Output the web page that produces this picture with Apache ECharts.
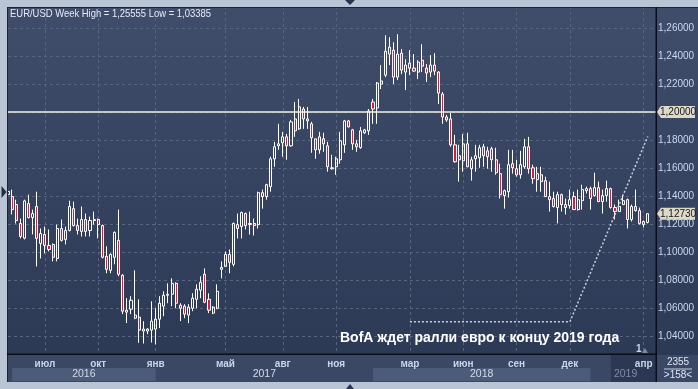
<!DOCTYPE html>
<html><head><meta charset="utf-8">
<script src="https://cdn.jsdelivr.net/npm/echarts@6/dist/echarts.min.js"></script>
<style>html,body{margin:0;padding:0;background:#b9c5d5;}#c{width:698px;height:389px;}</style>
</head><body><div id="c"></div>
<script>
// weekly EUR/USD candles: [open, close, low, high]
const candles = [
[1.1410,1.1432,1.1388,1.1452],[1.1395,1.1302,1.1267,1.1445],[1.1338,1.1224,1.1203,1.1373],[1.1203,1.1110,1.1096,1.1238],
[1.1098,1.1364,1.1089,1.1373],[1.1345,1.1245,1.1238,1.1409],[1.1245,1.1274,1.1125,1.1302],[1.1324,1.1096,1.0896,1.1430],
[1.1060,1.1131,1.0953,1.1167],[1.1124,1.1046,1.0989,1.1181],[1.1046,1.1017,1.1003,1.1160],[1.1053,1.0961,1.0932,1.1060],
[1.0953,1.1167,1.0932,1.1195],[1.1167,1.1082,1.1074,1.1231],[1.1089,1.1153,1.1053,1.1181],[1.1153,1.1324,1.1146,1.1366],
[1.1309,1.1188,1.1181,1.1359],[1.1188,1.1153,1.1124,1.1238],[1.1146,1.1231,1.1110,1.1324],[1.1231,1.1146,1.1110,1.1274],
[1.1153,1.1224,1.1110,1.1252],[1.1224,1.1231,1.1195,1.1288],[1.1231,1.1195,1.1096,1.1238],[1.1188,1.0961,1.0953,1.1195],
[1.0968,1.0875,1.0847,1.1039],[1.0868,1.0982,1.0847,1.0989],[1.0961,1.1139,1.0911,1.1146],[1.1082,1.0840,1.0826,1.1302],
[1.0833,1.0576,1.0555,1.0840],[1.0569,1.0583,1.0491,1.0669],[1.0590,1.0654,1.0555,1.0683],[1.0526,1.0548,1.0519,1.0868],
[1.0533,1.0441,1.0350,1.0661],[1.0434,1.0448,1.0345,1.0505],[1.0434,1.0448,1.0412,1.0455],[1.0441,1.0505,1.0352,1.0647],
[1.0448,1.0519,1.03385,1.0597],[1.0519,1.0633,1.0455,1.0683],[1.0612,1.0690,1.0540,1.0718],[1.0690,1.0697,1.0633,1.0775],
[1.0697,1.0775,1.0612,1.0811],[1.0775,1.0633,1.0597,1.0783],[1.0619,1.0597,1.0505,1.0633],[1.0612,1.0555,1.0526,1.0626],
[1.0548,1.0605,1.0491,1.0626],[1.0597,1.0669,1.0576,1.0704],[1.0661,1.0733,1.0597,1.0768],[1.0726,1.0783,1.0669,1.0825],
[1.0840,1.0640,1.0633,1.0882],[1.0661,1.0583,1.0562,1.0704],[1.0562,1.0605,1.0555,1.0612],[1.0597,1.0718,1.0590,1.0768],
[1.0875,1.0889,1.0811,1.0932],[1.0896,1.0982,1.0896,1.1003],[1.0982,1.0925,1.0847,1.1017],[1.0911,1.1203,1.0896,1.1210],
[1.1195,1.1167,1.1096,1.1274],[1.1181,1.1281,1.1096,1.1288],[1.1274,1.1188,1.1160,1.1281],[1.1195,1.1203,1.1124,1.1288],
[1.1203,1.1188,1.1117,1.1238],[1.1195,1.1423,1.1167,1.1430],[1.1423,1.1395,1.1309,1.1445],[1.1395,1.1480,1.1373,1.1487],
[1.1466,1.1665,1.1430,1.1680],[1.1665,1.1751,1.1608,1.1786],[1.1758,1.1772,1.1729,1.1915],[1.1779,1.1822,1.1680,1.1858],
[1.1822,1.1758,1.1658,1.1843],[1.1758,1.1929,1.1751,1.1943],[1.1950,1.1865,1.1822,1.2071],[1.1879,1.2036,1.1872,1.2093],
[1.2021,1.1950,1.1879,1.2036],[1.1936,1.1950,1.1879,1.2036],[1.1915,1.1815,1.1708,1.1929],[1.1808,1.1729,1.1665,1.1808],
[1.1729,1.1822,1.1701,1.1858],[1.1808,1.1772,1.1715,1.1851],[1.1758,1.1608,1.1573,1.1786],[1.1594,1.1601,1.1587,1.1694],
[1.1608,1.1665,1.1551,1.1680],[1.1658,1.1794,1.1630,1.1858],[1.1765,1.1936,1.1708,1.1943],[1.1936,1.1893,1.1890,1.1943],
[1.1872,1.1772,1.1729,1.1879],[1.1772,1.1751,1.1715,1.1801],[1.1744,1.1865,1.1737,1.1893],[1.1851,1.1872,1.1843,1.1879],
[1.1865,1.2007,1.1836,1.2021],[1.2071,1.2021,1.1915,1.2093],[1.2028,1.2207,1.1915,1.2214],[1.2199,1.2221,1.2164,1.2335],
[1.2263,1.2434,1.2249,1.2548],[1.2413,1.2463,1.2335,1.2534],[1.2441,1.2249,1.2199,1.2498],[1.2249,1.2413,1.2228,1.25555],
[1.2420,1.2299,1.2270,1.2449],[1.2285,1.2335,1.2157,1.2377],[1.2349,1.2313,1.2263,1.2441],[1.2313,1.2292,1.2285,1.2413],
[1.2285,1.2356,1.2235,1.2370],[1.2370,1.2327,1.2285,1.2484],[1.2313,1.2278,1.2214,1.2342],[1.2285,1.2335,1.2249,1.2406],
[1.2335,1.2292,1.2263,1.2420],[1.2285,1.2135,1.2057,1.2292],[1.2128,1.1964,1.1915,1.2142],[1.1964,1.1943,1.1929,1.1979],
[1.1950,1.1765,1.1751,1.1993],[1.1765,1.1644,1.1637,1.1836],[1.1687,1.1658,1.1502,1.1765],[1.1651,1.1772,1.1573,1.1843],
[1.1772,1.1608,1.1606,1.1851],[1.1594,1.1658,1.1509,1.1680],[1.1665,1.1687,1.1573,1.1765],[1.1672,1.1744,1.1601,1.1765],
[1.1751,1.1687,1.1608,1.1772],[1.1722,1.1680,1.1594,1.1751],[1.1737,1.1658,1.1573,1.1751],[1.1658,1.1566,1.1551,1.1744],
[1.1559,1.1409,1.1381,1.1630],[1.1402,1.1437,1.1309,1.1445],[1.1430,1.1623,1.1388,1.1729],[1.1630,1.1601,1.1559,1.1729],
[1.1594,1.1551,1.1537,1.1658],[1.1551,1.1623,1.1523,1.1722],[1.1608,1.1751,1.1594,1.1808],[1.1751,1.1594,1.1559,1.1822],
[1.1601,1.1523,1.1487,1.1623],[1.1516,1.1559,1.1430,1.1608],[1.1551,1.1502,1.1430,1.1608],[1.1509,1.1395,1.1393,1.1537],
[1.1395,1.1373,1.1288,1.1502],[1.1381,1.1324,1.1317,1.1430],[1.1317,1.1409,1.1203,1.1430],[1.1409,1.1338,1.1288,1.1416],
[1.1338,1.1317,1.1267,1.1381],[1.1331,1.1373,1.1309,1.1445],[1.1395,1.1302,1.1300,1.1430],[1.1302,1.1373,1.1295,1.1445],
[1.1366,1.1445,1.1302,1.1480],[1.1437,1.1452,1.1416,1.1466],[1.1452,1.1381,1.1302,1.1466],[1.1402,1.1459,1.1395,1.1566],
[1.1459,1.1359,1.1357,1.1502],[1.1359,1.1402,1.1274,1.1445],[1.1402,1.1452,1.1359,1.1509],[1.1452,1.1317,1.1309,1.1459],
[1.1317,1.1288,1.1231,1.1338],[1.1288,1.1324,1.1286,1.1373],[1.1338,1.1366,1.1336,1.1409],[1.1373,1.1231,1.1167,1.1381],
[1.1231,1.1324,1.1217,1.1338],[1.1324,1.1295,1.1288,1.1445],[1.1295,1.1203,1.1195,1.1317],[1.1195,1.1217,1.1174,1.1224],
[1.1210,1.1273,1.1203,1.1274]
];
const firstWeek = '2016-05-02';
const totalSlots = 159; // candles + 2 empty weeks at the right edge
const monthTicks = [[9,'июл'],[22,'окт'],[36,'янв'],[53,'май'],[67,'авг'],[80,'ноя'],[98,'мар'],[111,'июн'],[124,'сен'],[137,'дек'],[155,'апр']];
const yearBands = [['2016',1,36,'light'],['2017',36,89,'none'],['2018',89,142,'light'],['2019',147,158,'dark']];
const levelLine = 1.20;
const trendLine = [[98,1.05],[137,1.05],[156,1.1825]];
const yTicks = {min:1.02, max:1.28, step:0.02};
const annotation = 'BofA ждет ралли евро к концу 2019 года';
const sideInfo = ['2355','>158<'];

const categories = [];
(function(){ let t = Date.parse(firstWeek+'T00:00:00Z'); for(let i=0;i<totalSlots;i++){ categories.push(new Date(t).toISOString().slice(0,10)); t += 7*864e5; } })();
const tickMap = new Map(monthTicks);
const fmt = v => v.toFixed(5).replace('.', ',');
const hi = Math.max(...candles.map(c=>c[3])), lo = Math.min(...candles.map(c=>c[2]));
const SANS = '"Liberation Sans", Arial, sans-serif';

const chart = echarts.init(document.getElementById('c'), null, {renderer:'canvas'});
const gridLine = {color:'#55647f', type:[3,3], width:1};
chart.setOption({
  animation:false,
  backgroundColor:'transparent',
  grid:{left:8, right:42, top:-2.8, bottom:25.2, containLabel:false},
  xAxis:[
    {type:'category', data:categories, boundaryGap:false, axisLine:{show:false}, axisTick:{show:false}, axisLabel:{show:false},
     splitLine:{show:true, interval:(i)=>tickMap.has(i), lineStyle:gridLine}},
    {type:'category', data:categories, boundaryGap:false, position:'bottom', z:150, axisLine:{show:false}, axisTick:{show:false}, splitLine:{show:false},
     axisLabel:{show:true, interval:(i)=>tickMap.has(i), formatter:(v,i)=>tickMap.get(i)||'', margin:0, verticalAlign:'middle',
       color:(v,i)=> i>=147 ? '#7f8ca6' : '#c9d5e8', fontFamily:SANS, fontSize:10, fontWeight:'bold'}}
  ],
  yAxis:[
    {type:'value', position:'right', min:yTicks.min, max:yTicks.max, interval:yTicks.step, axisLine:{show:false}, axisTick:{show:false}, axisLabel:{show:false},
     splitLine:{show:true, showMinLine:false, showMaxLine:false, lineStyle:gridLine}},
    {type:'value', position:'right', min:yTicks.min, max:yTicks.max, interval:yTicks.step, z:150, axisLine:{show:false}, axisTick:{show:false}, splitLine:{show:false},
     axisLabel:{show:true, margin:2, formatter:fmt, showMinLabel:false, showMaxLabel:false, color:'#c9d8f0', fontFamily:SANS, fontSize:10}}
  ],
  series:[
    {type:'candlestick', data:candles.map(c=>[c[0],c[1],c[2],c[3]]), xAxisIndex:0, yAxisIndex:0, barWidth:2.6, z:2,
     itemStyle:{color:'transparent', color0:'#dc1a40', borderColor:'#ffffff', borderColor0:'#ffffff', borderWidth:1},
     markLine:{silent:true, symbol:'none', label:{show:false}, lineStyle:{color:'#f3f0e4', width:1.5, type:'solid'}, data:[{yAxis:levelLine}]}},
    {type:'line', data:trendLine, xAxisIndex:0, yAxisIndex:0, symbol:'none', z:4, lineStyle:{color:'#c9ced9', width:1.5, type:[2,2]}}
  ]
});

const px = i => chart.convertToPixel({xAxisIndex:0}, i);
const py = v => chart.convertToPixel({yAxisIndex:0}, v);
const g = [];
g.push({type:'rect', shape:{x:0,y:0,width:698,height:389}, z:-100, style:{fill:new echarts.graphic.LinearGradient(0,0,0,1,[{offset:0,color:'#404d6b'},{offset:1,color:'#2b3854'}])}});
// title
g.push({type:'text', x:10, y:14, scaleX:0.9, z:100, style:{text:'EUR/USD Week High = '+fmt(hi)+' Low = '+fmt(lo), fill:'#e6ecf6', font:'10.5px '+SANS, align:'left', verticalAlign:'middle'}});
// x axis panel
g.push({type:'rect', shape:{x:8,y:355,width:648,height:27}, z:100, style:{fill:'#3a4865'}});
g.push({type:'rect', shape:{x:657,y:355,width:41,height:27}, z:100, style:{fill:'#3a4865'}});
yearBands.forEach(b=>{
  const x0 = px(b[1]), x1 = px(b[2]);
  if (b[3]==='light') g.push({type:'rect', shape:{x:x0,y:368,width:x1-x0,height:13}, z:101, style:{fill:'#4c5b79'}});
  if (b[3]==='dark') g.push({type:'rect', shape:{x:x0,y:355,width:x1-x0,height:27}, z:101, style:{fill:'#2c3853'}});
  const dark = b[3]==='dark';
  g.push({type:'text', x: dark ? x0+3 : (x0+x1)/2, y:374.5, z:102, style:{text:b[0], fill: dark ? '#7f8ca6' : '#d4dcea', font:'10.5px '+SANS, align: dark ? 'left':'center', verticalAlign:'middle'}});
});
// frame strips and separators
g.push({type:'rect', shape:{x:0,y:0,width:698,height:7}, z:110, style:{fill:'#b9c5d5'}});
g.push({type:'rect', shape:{x:0,y:7,width:698,height:1}, z:110, style:{fill:'#1c2230'}});
g.push({type:'rect', shape:{x:0,y:0,width:7,height:389}, z:110, style:{fill:'#b9c5d5'}});
g.push({type:'rect', shape:{x:7,y:7,width:1,height:375}, z:110, style:{fill:'#1c2230'}});
g.push({type:'rect', shape:{x:0,y:382,width:698,height:7}, z:110, style:{fill:'#b9c5d5'}});
g.push({type:'rect', shape:{x:7,y:353.5,width:650,height:1.5}, z:110, style:{fill:'#0c0e13'}});
g.push({type:'rect', shape:{x:655.5,y:7,width:1.5,height:375}, z:110, style:{fill:'#0c0e13'}});
g.push({type:'polygon', shape:{points:[[345,0],[355,0],[350,5]]}, z:111, style:{fill:'#2a3350'}});
g.push({type:'polygon', shape:{points:[[346,389],[354,389],[350,384]]}, z:111, style:{fill:'#2a3350'}});
g.push({type:'polygon', shape:{points:[[1.5,186],[6.5,192],[1.5,198]]}, z:111, style:{fill:'#1f2a44'}});
// right-bottom info box
g.push({type:'text', x:678, y:362, z:112, style:{text:sideInfo[0], fill:'#dfe6f2', font:'10px '+SANS, align:'center', verticalAlign:'middle'}});
g.push({type:'rect', shape:{x:664,y:368.5,width:28,height:1}, z:112, style:{fill:'#c7d0e0'}});
g.push({type:'text', x:678, y:375.5, z:112, style:{text:sideInfo[1], fill:'#dfe6f2', font:'10px '+SANS, align:'center', verticalAlign:'middle'}});
// marker "1"
g.push({type:'text', x:636, y:349, z:100, style:{text:'1', fill:'#c9d5e8', font:'bold 10px '+SANS, align:'left', verticalAlign:'middle'}});
g.push({type:'polygon', shape:{points:[[642,353],[648,353],[645,348]]}, z:100, style:{fill:'#7a879f'}});
// price tags
[levelLine, candles[candles.length-1][1]].forEach(v=>{
  const y = py(v);
  g.push({type:'polygon', shape:{points:[[657,y],[661,y-6],[695,y-6],[695,y+6],[661,y+6]]}, z:200, style:{fill:'#dddbc7'}});
  g.push({type:'text', x:660, y:y+0.5, z:201, style:{text:fmt(v), fill:'#14171d', font:'10px '+SANS, align:'left', verticalAlign:'middle'}});
});
// annotation
g.push({type:'text', x:340, y:338, z:100, style:{text:annotation, fill:'#ffffff', font:'bold 14px '+SANS, align:'left', verticalAlign:'middle'}});
chart.setOption({graphic:g});
</script></body></html>
